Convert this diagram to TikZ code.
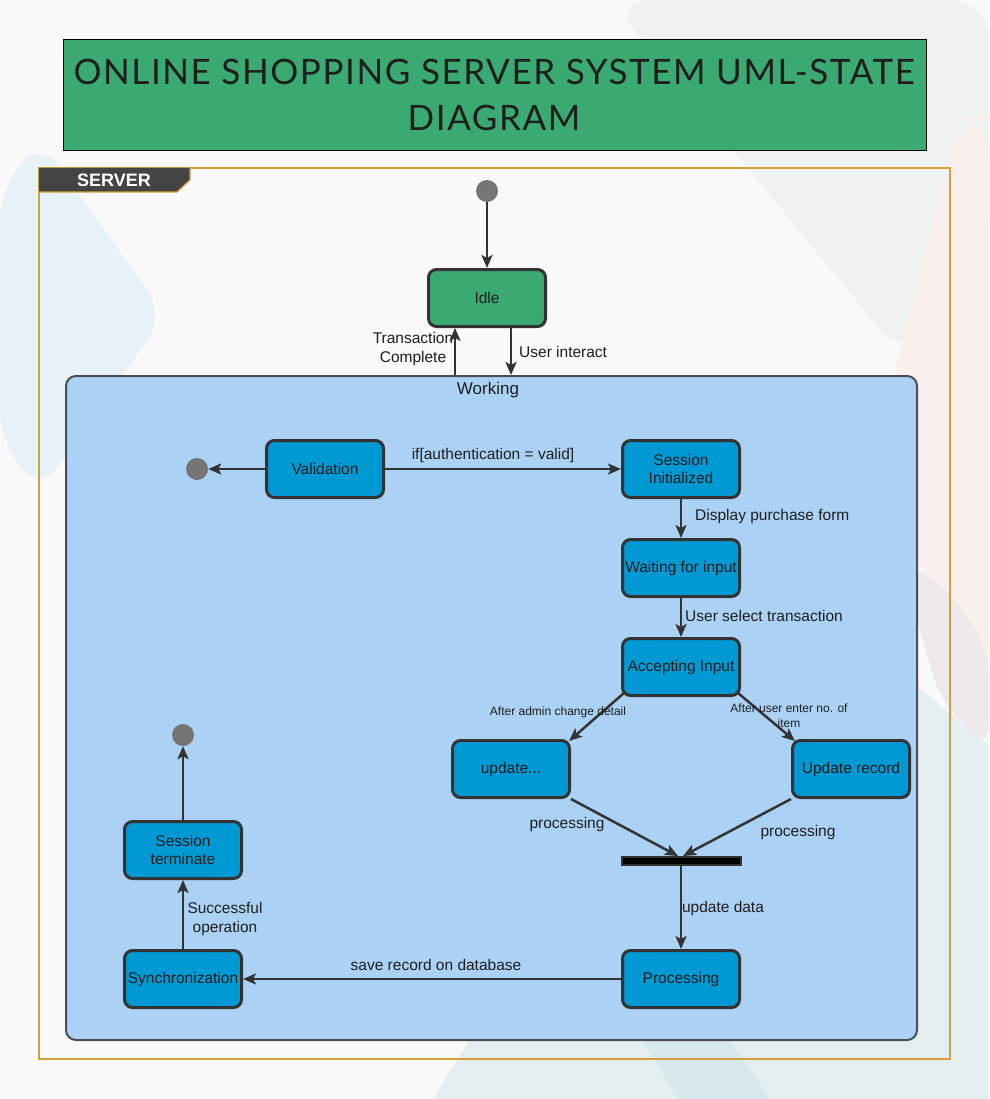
\documentclass[tikz,border=0pt]{standalone}
\usepackage{fontspec}
\setmainfont{Liberation Sans}
\newfontfamily\titlefont[LetterSpace=4.5]{Lato}
\usetikzlibrary{arrows.meta}

\definecolor{bgpage}{HTML}{F9F9F9}
\definecolor{bgblue}{HTML}{E6F1F8}
\definecolor{bggrey}{HTML}{EEF2F1}
\definecolor{bgpink}{HTML}{F9EFEC}
\definecolor{bgmauve}{HTML}{EEE8EA}
\definecolor{bgteal}{HTML}{E4EEF1}
\definecolor{bgtealdark}{HTML}{D7E7EC}
\definecolor{titlegreen}{HTML}{3AAA72}
\definecolor{framegold}{HTML}{D4A03A}
\definecolor{tabgrey}{HTML}{444444}
\definecolor{workblue}{HTML}{ABD2F5}
\definecolor{workline}{HTML}{4A4D55}
\definecolor{stateblue}{HTML}{0099D3}
\definecolor{stateline}{HTML}{333333}
\definecolor{dotgrey}{HTML}{757575}
\definecolor{textdark}{HTML}{1E1E1E}

\tikzset{
  state/.style={draw=stateline, fill=stateblue, line width=3pt, rounded corners=8pt,
    minimum width=117pt, minimum height=57pt, align=center, inner sep=2pt,
    font=\fontsize{15.5}{18}\selectfont, text=textdark},
  idlestate/.style={state, fill=titlegreen},
  endpoint/.style={circle, fill=dotgrey, minimum size=22pt, inner sep=0pt},
  forkbar/.style={draw=stateline, fill=black, line width=2pt, minimum width=119pt,
    minimum height=8pt, inner sep=0pt},
  arr/.style={draw=stateline, line width=2.5pt, -{Stealth[length=13pt,width=11pt,inset=3pt]}},
  lbl/.style={font=\fontsize{15.5}{18.5}\selectfont, text=textdark, align=center, inner sep=1pt},
  smalllbl/.style={lbl, font=\fontsize{12}{15}\selectfont},
}

\begin{document}
\begin{tikzpicture}[x=1pt, y=-1pt]
		%%%%% BACKGROUND %%%%%
		\useasboundingbox (0, 0) rectangle (989, 1099);
		\fill[bgpage] (0, 0) rectangle (989, 1099);
		\fill[bgblue, rounded corners=30pt] (0, 190) -- (40, 140) -- (165, 315) -- (40, 492) -- (0, 440) -- cycle;
		\fill[bggrey, rounded corners=40pt] (610, 0) -- (989, 0) -- (989, 260) -- (905, 360) -- cycle;
		\fill[bgpink, rounded corners=40pt] (989, 115) -- (960, 118) -- (870, 470) -- (989, 700) -- cycle;
		\fill[bgmauve, rounded corners=25pt] (900, 560) -- (950, 590) -- (989, 650) -- (989, 750) -- (940, 700) -- cycle;
		\fill[bgteal] (433, 1099) -- (745, 600) -- (860, 640) -- (989, 745) -- (989, 1099) -- cycle;
		\fill[bgtealdark] (643, 1041) -- (730, 1041) -- (770, 1099) -- (678, 1099) -- cycle;

		%%%%% TITLE %%%%%
		\draw[fill=titlegreen, line width=1pt] (63, 40) rectangle (926, 151);
		\node[font=\titlefont\fontsize{35}{46}\selectfont, align=center, text=textdark] (title) at (494, 95)
			{ONLINE SHOPPING SERVER SYSTEM UML-STATE\\DIAGRAM};

		%%%%% SERVER FRAME %%%%%
		\draw[framegold, line width=1.3pt] (39, 168) rectangle (950, 1059);
		\fill[tabgrey] (39, 168) -- (190, 168) -- (190, 180) -- (177, 192) -- (39, 192) -- cycle;
		\draw[framegold, line width=1.3pt] (39, 192) -- (177, 192) -- (190, 180) -- (190, 168);
		\node[font=\bfseries\fontsize{18}{20}\selectfont, text=white] (srv) at (114, 180) {SERVER};

		%%%%% WORKING %%%%%
		\node[draw=workline, fill=workblue, line width=2pt, rounded corners=10pt,
			minimum width=851pt, minimum height=664pt] (work) at (491.5, 708) {};
		\node[lbl, font=\fontsize{17}{20}\selectfont] (worklbl) at (488, 390) {Working};

		%%%%% STATES %%%%%
		\node[endpoint] (start) at (487, 191) {};
		\node[idlestate] (idle) at (487, 298) {Idle};

		\node[state] (valid) at (325, 469) {Validation};
		\node[endpoint] (endval) at (197, 469) {};
		\node[state] (sinit) at (681, 469) {Session\\Initialized};
		\node[state] (wait) at (681, 568) {Waiting for input};
		\node[state] (accept) at (681, 667) {Accepting Input};
		\node[state] (upd) at (511, 769) {update...};
		\node[state] (rec) at (851, 769) {Update record};
		\node[forkbar] (fork) at (681, 861) {};
		\node[state] (proc) at (681, 979) {Processing};
		\node[state] (sync) at (183, 979) {Synchronization};
		\node[state] (sterm) at (183, 850) {Session\\terminate};
		\node[endpoint] (endsync) at (183, 735) {};

		%%%%% TRANSITIONS %%%%%
		\coordinate (tcfoot) at (455, 375);
		\coordinate (uifoot) at (511, 375);
		\draw[arr] (start) -- (idle);
		\draw[arr] (tcfoot) -- (tcfoot |- idle.south);
		\draw[arr] (uifoot |- idle.south) -- (uifoot);
		\draw[arr] (valid) -- (endval);
		\draw[arr] (valid) -- (sinit);
		\draw[arr] (sinit) -- (wait);
		\draw[arr] (wait) -- (accept);
		\draw[arr] ([shift={(3,-4)}]accept.south west) -- ([shift={(-2,2)}]upd.north east);
		\draw[arr] ([shift={(-3,-4)}]accept.south east) -- ([shift={(4,2)}]rec.north west);
		\draw[arr] (upd.south east) -- ([shift={(-3,0)}]fork.north);
		\draw[arr] (rec.south west) -- ([shift={(2,0)}]fork.north);
		\draw[arr] (fork) -- (proc);
		\draw[arr] (proc) -- (sync);
		\draw[arr] (sync) -- (sterm);
		\draw[arr] (sterm) -- (endsync);

		%%%%% LABELS %%%%%
		\node[lbl] (ltc) at (413, 349) {Transaction\\Complete};
		\node[lbl, anchor=west] (lui) at (518, 352) {User interact};
		\node[lbl] (lauth) at (493, 455) {if[authentication = valid]};
		\node[lbl, anchor=west] (ldisp) at (694, 516) {Display purchase form};
		\node[lbl, anchor=west] (lsel) at (684, 616) {User select transaction};
		\node[smalllbl] (ladmin) at (558, 712) {After admin change detail};
		\node[smalllbl] (luser) at (789, 716) {After user enter no. of\\item};
		\node[lbl] (lproc1) at (567, 824) {processing};
		\node[lbl] (lproc2) at (798, 832) {processing};
		\node[lbl] (ldata) at (723, 908) {update data};
		\node[lbl] (lsave) at (436, 965) {save record on database};
		\node[lbl] (lsucc) at (225, 919) {Successful\\operation};
		%%%%% END %%%%%
	\end{tikzpicture}
\end{document}
